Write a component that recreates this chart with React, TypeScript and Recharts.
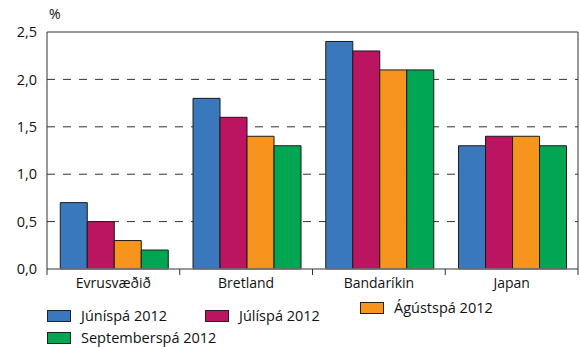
import React from 'react';
import { BarChart, Bar, XAxis, YAxis, CartesianGrid, Legend, ReferenceLine } from 'recharts';

const categories = ['Evrusvæðið', 'Bretland', 'Bandaríkin', 'Japan'];
const juni = [0.7, 1.8, 2.4, 1.3];
const juli = [0.5, 1.6, 2.3, 1.4];
const agust = [0.3, 1.4, 2.1, 1.4];
const sept = [0.2, 1.3, 2.1, 1.3];
const seriesNames = ['Júníspá 2012', 'Júlíspá 2012', 'Ágústspá 2012', 'Septemberspá 2012'];
const seriesKeys = ['juni', 'juli', 'agust', 'sept'];
const seriesColors = ['#3a78bd', '#bb1460', '#f7941d', '#00a651'];
const yTicks = [0, 0.5, 1.0, 1.5, 2.0, 2.5];
const gridValues = [0.5, 1.0, 1.5, 2.0];

const data = categories.map((c, i) => ({
  name: c,
  juni: juni[i],
  juli: juli[i],
  agust: agust[i],
  sept: sept[i],
}));

const FONT = '"Open Sans", "Noto Sans", sans-serif';

const legendPos = [
  { left: 47, top: 14 },
  { left: 205, top: 14 },
  { left: 360, top: 6 },
  { left: 47, top: 36 },
];

const CustomLegend = () => (
  <div style={{ position: 'relative', width: 580, height: 55, fontFamily: FONT, fontSize: 14.5, color: '#111' }}>
    {seriesNames.map((n, i) => (
      <div key={n} style={{ position: 'absolute', left: legendPos[i].left, top: legendPos[i].top, display: 'flex', alignItems: 'center' }}>
        <div style={{ width: 22, height: 10, background: seriesColors[i], border: '1px solid #222', marginRight: 10 }} />
        <span>{n}</span>
      </div>
    ))}
  </div>
);

const CatTick = (props: any) => {
  const { x, y, payload, index, visibleTicksCount } = props;
  const half = payload && payload.offset ? payload.offset : 66.5;
  const last = index === visibleTicksCount - 1;
  return (
    <g>
      <line x1={x - half} x2={x - half} y1={y} y2={y + 6} stroke="#333" strokeWidth={1} />
      {last && <line x1={x + half} x2={x + half} y1={y} y2={y + 6} stroke="#333" strokeWidth={1} />}
      <text x={x} y={y + 19} textAnchor="middle" fill="#111" fontSize={14} fontFamily={FONT}>
        {payload.value}
      </text>
    </g>
  );
};

export default function App() {
  return (
    <div style={{ position: 'absolute', left: 0, top: 0, width: 580, height: 347, background: '#fff' }}>
      <div style={{ position: 'absolute', left: 49, top: 4, fontFamily: FONT, fontSize: 14, color: '#111' }}>%</div>
      <BarChart
        width={580}
        height={347}
        data={data}
        margin={{ top: 32, right: 1, left: 0, bottom: 0 }}
        barCategoryGap="10%"
        barGap={0}
      >
        <CartesianGrid
          xAxisId="cat"
          yAxisId="l"
          vertical={false}
          stroke="#333"
          strokeDasharray="8 8"
          horizontalValues={gridValues}
        />
        <XAxis
          dataKey="name"
          xAxisId="cat"
          axisLine={{ stroke: '#777', strokeWidth: 1.5 }}
          tickLine={false}
          tickSize={0}
          tickMargin={0}
          tick={<CatTick />}
          height={23}
          interval={0}
        />
        <YAxis
          yAxisId="l"
          domain={[0, 2.5]}
          ticks={yTicks}
          width={47}
          axisLine={{ stroke: '#333' }}
          tickLine={false}
          tickSize={0}
          tickMargin={10}
          tick={{ fill: '#111', fontSize: 14.5, fontFamily: FONT }}
          tickFormatter={(v: number) => v.toFixed(1).replace('.', ',')}
        />
        <YAxis
          yAxisId="r"
          orientation="right"
          domain={[0, 2.5]}
          width={1}
          axisLine={{ stroke: '#333' }}
          tick={false}
          tickLine={false}
        />
        <ReferenceLine yAxisId="l" xAxisId="cat" y={2.5} stroke="#777" strokeWidth={1.5} />
        {seriesKeys.map((k, i) => (
          <Bar
            key={k}
            dataKey={k}
            name={seriesNames[i]}
            xAxisId="cat"
            yAxisId="l"
            fill={seriesColors[i]}
            stroke="#1a1a1a"
            strokeWidth={1}
            isAnimationActive={false}
          />
        ))}
        <Legend verticalAlign="bottom" content={CustomLegend} wrapperStyle={{ height: 55 }} />
      </BarChart>
    </div>
  );
}
